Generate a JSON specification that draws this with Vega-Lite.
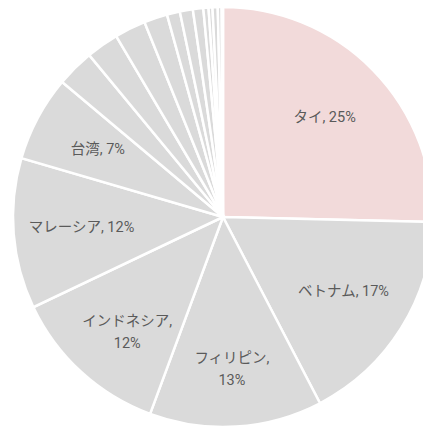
{
  "$schema": "https://vega.github.io/schema/vega-lite/v6.json",
  "width": 420,
  "height": 420,
  "autosize": "none",
  "padding": {"left": 13, "top": 7, "right": 0, "bottom": 0},
  "background": "white",
  "data": {
    "values": [
      {"i": 1, "country": "タイ", "value": 25.4, "label": "タイ, 25%"},
      {"i": 2, "country": "ベトナム", "value": 17.0, "label": "ベトナム, 17%"},
      {"i": 3, "country": "フィリピン", "value": 13.3, "label": "フィリピン,\n13%"},
      {"i": 4, "country": "インドネシア", "value": 12.3, "label": "インドネシア,\n12%"},
      {"i": 5, "country": "マレーシア", "value": 11.6, "label": "マレーシア, 12%"},
      {"i": 6, "country": "台湾", "value": 6.6, "label": "台湾, 7%"},
      {"i": 7, "country": "中国", "value": 2.9, "label": ""},
      {"i": 8, "country": "インド", "value": 2.5, "label": ""},
      {"i": 9, "country": "韓国", "value": 2.4, "label": ""},
      {"i": 10, "country": "シンガポール", "value": 1.8, "label": ""},
      {"i": 11, "country": "香港", "value": 1.0, "label": ""},
      {"i": 12, "country": "ミャンマー", "value": 1.0, "label": ""},
      {"i": 13, "country": "カンボジア", "value": 0.8, "label": ""},
      {"i": 14, "country": "ラオス", "value": 0.4, "label": ""},
      {"i": 15, "country": "バングラデシュ", "value": 0.3, "label": ""},
      {"i": 16, "country": "スリランカ", "value": 0.4, "label": ""},
      {"i": 17, "country": "ネパール", "value": 0.3, "label": ""},
      {"i": 18, "country": "モンゴル", "value": 0.1, "label": ""}
    ]
  },
  "encoding": {
    "theta": {"field": "value", "type": "quantitative", "stack": true},
    "order": {"field": "i", "type": "quantitative"}
  },
  "layer": [
    {
      "mark": {"type": "arc", "outerRadius": 210, "stroke": "white", "strokeWidth": 2.5},
      "encoding": {
        "color": {
          "condition": {"test": "datum.country === 'タイ'", "value": "#f2dada"},
          "value": "#dadada"
        }
      }
    },
    {
      "transform": [{"filter": "datum.label !== ''"}],
      "mark": {
        "type": "text",
        "font": "Roboto, Noto Sans CJK JP",
        "fontSize": 14.5,
        "fontWeight": "normal",
        "color": "#5a5a5a",
        "align": "center",
        "baseline": "middle",
        "lineBreak": "\n",
        "lineHeight": 22
      },
      "encoding": {
        "text": {"field": "label", "type": "nominal"},
        "radius": {
          "condition": {"test": "datum.country === '台湾'", "value": 175},
          "value": 142
        }
      }
    }
  ],
  "config": {"view": {"stroke": null}}
}
